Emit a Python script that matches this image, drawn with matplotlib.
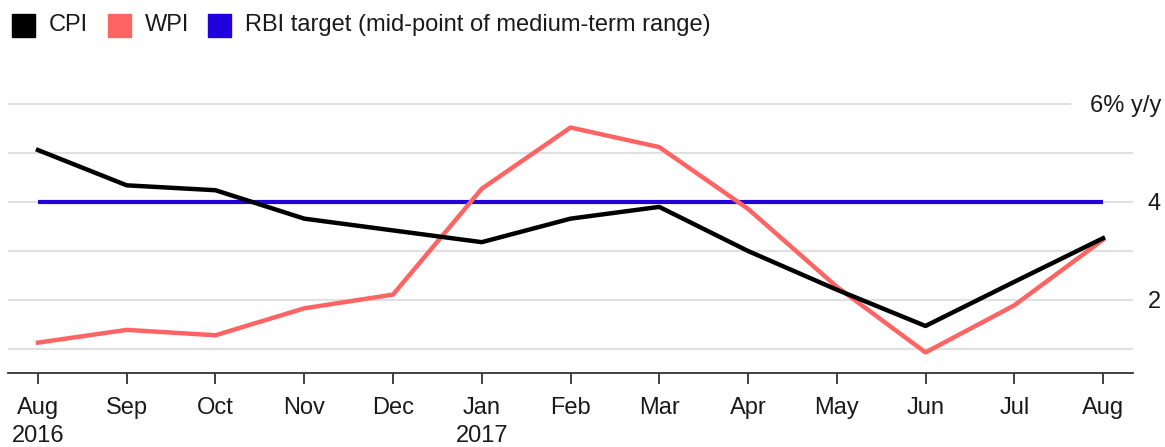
import matplotlib.pyplot as plt
from matplotlib.patches import Rectangle

# monthly inflation, % y/y, Aug 2016 .. Aug 2017
months = ["Aug", "Sep", "Oct", "Nov", "Dec", "Jan", "Feb", "Mar", "Apr", "May", "Jun", "Jul", "Aug"]
years = {0: "2016", 5: "2017"}
cpi = [5.05, 4.33, 4.23, 3.65, 3.41, 3.17, 3.65, 3.89, 2.99, 2.20, 1.46, 2.36, 3.25]
wpi = [1.12, 1.38, 1.27, 1.82, 2.10, 4.26, 5.51, 5.11, 3.85, 2.26, 0.92, 1.88, 3.22]
rbi_target = [4.0] * len(months)
right_ticks = [2, 4, 6]
right_labels = ["2", "4", "6% y/y"]

plt.rcParams['font.family'] = ['Liberation Sans', 'DejaVu Sans']
FS = 17
TXT = "#1a1a1a"

fig = plt.figure(figsize=(11.65, 4.47), dpi=100)
ax = fig.add_axes([8 / 1165, 74 / 447, 1125 / 1165, 313.6 / 447])

x = list(range(len(months)))
ax.set_xlim(-0.338, 12.338)
ax.set_ylim(0.5, 6.9)

# gridlines
for g in [1, 2, 3, 4, 5]:
    ax.axhline(g, color="#e0e0e0", lw=1.5, zorder=0)
ax.plot([-0.338, 11.63], [6, 6], color="#e0e0e0", lw=1.5, zorder=0)

ax.plot(x, rbi_target, color="#2200dd", lw=3.0, solid_capstyle="butt", zorder=2)
ax.plot(x, wpi, color="#ff6464", lw=3.2, zorder=3)
ax.plot(x, cpi, color="#000000", lw=3.2, zorder=4)

for s in ["top", "right", "left"]:
    ax.spines[s].set_visible(False)
ax.spines["bottom"].set_linewidth(1.3)
ax.spines["bottom"].set_color("#333333")
ax.set_yticks([])
ax.set_xticks(x)
ax.set_xticklabels([])
ax.tick_params(axis="x", length=8, width=1.3, color="#333333")

for i, m in enumerate(months):
    ax.annotate(m, (i, 0), xycoords=("data", "figure pixels"), xytext=(0, 447 - 414),
                textcoords="offset pixels", ha="center", va="baseline", fontsize=FS,
                color=TXT)
    if i in years:
        ax.annotate(years[i], (i, 0), xycoords=("data", "figure pixels"),
                    xytext=(0, 447 - 442), textcoords="offset pixels", ha="center",
                    va="baseline", fontsize=FS, color=TXT)

for t, lab in zip(right_ticks, right_labels):
    ax.annotate(lab, (1161 / 1165, t), xycoords=("figure fraction", "data"),
                xytext=(0, -8), textcoords="offset pixels",
                ha="right", va="baseline", fontsize=FS, color=TXT)

# legend
legend_items = [("CPI", "#000000", 12), ("WPI", "#ff6464", 108),
                ("RBI target (mid-point of medium-term range)", "#2200dd", 208)]
for lab, col, px in legend_items:
    fig.patches.append(Rectangle((px / 1165, (447 - 37) / 447), 23 / 1165, 23 / 447,
                                 transform=fig.transFigure, color=col, figure=fig))
    fig.text((px + 37) / 1165, (447 - 31) / 447, lab, ha="left", va="baseline",
             fontsize=FS, color=TXT)

fig.savefig("out.png", dpi=100)
